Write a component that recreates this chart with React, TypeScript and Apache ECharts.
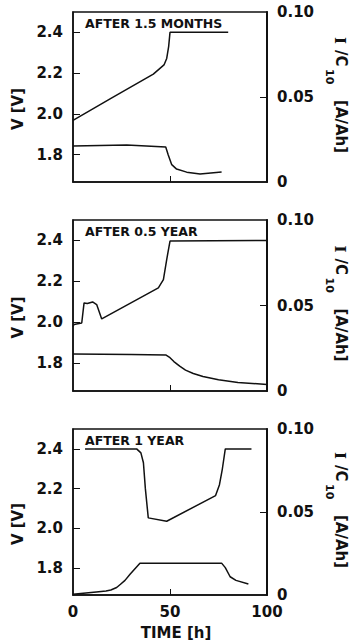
import React, { useEffect, useRef } from "react";
import * as echarts from "echarts";

// ---- data (time in h, voltage in V, current in A/Ah) ----
const panelTitles = ["AFTER 1.5 MONTHS", "AFTER 0.5 YEAR", "AFTER 1 YEAR"];
const vTicks = [1.8, 2.0, 2.2, 2.4];
const iTicks = [0, 0.05, 0.1];
const xTicks = [0, 50, 100];

// Panel 1: after 1.5 months
const p1VoltT = [0, 20, 41.4, 46.9, 48.3, 49.3, 50, 80];
const p1VoltV = [1.968, 2.078, 2.195, 2.24, 2.272, 2.33, 2.4, 2.4];
const p1CurrT = [0, 27.7, 47.8, 49.1, 50.9, 53.4, 58.6, 65.5, 76.6];
const p1CurrI = [0.0212, 0.0218, 0.0206, 0.0159, 0.0102, 0.0076, 0.0058, 0.0047, 0.0059];

// Panel 2: after 0.5 year
const p2VoltT = [0, 0.5, 4.5, 5.7, 7.4, 10.1, 12.2, 14.8, 44, 46.6, 48.3, 50, 100];
const p2VoltV = [1.98, 1.99, 1.997, 2.095, 2.092, 2.1, 2.087, 2.017, 2.169, 2.209, 2.307, 2.397, 2.4];
const p2CurrT = [0, 30, 48, 50, 52, 55, 58, 62, 67, 75, 85, 100];
const p2CurrI = [0.0216, 0.0214, 0.021, 0.0195, 0.0172, 0.0145, 0.0122, 0.0102, 0.0085, 0.0066, 0.005, 0.0038];

// Panel 3: after 1 year
const p3VoltT = [6.2, 32.8, 35, 36.3, 37.3, 38.8, 48.3, 73.5, 75.5, 77, 78.5, 92];
const p3VoltV = [2.4, 2.4, 2.38, 2.33, 2.2, 2.053, 2.036, 2.165, 2.22, 2.3, 2.4, 2.4];
const p3CurrT = [0, 12, 17, 19.5, 22.5, 24.5, 26.8, 29.4, 34.5, 76.6, 78.5, 81, 84, 90.4];
const p3CurrI = [0.0004, 0.0018, 0.0024, 0.003, 0.0045, 0.0065, 0.0088, 0.0125, 0.0192, 0.0192, 0.0165, 0.011, 0.0088, 0.0066];

const zip = (a: number[], b: number[]) => a.map((t, i) => [t, b[i]]);

const panels = [
  { volt: zip(p1VoltT, p1VoltV), curr: zip(p1CurrT, p1CurrI) },
  { volt: zip(p2VoltT, p2VoltV), curr: zip(p2CurrT, p2CurrI) },
  { volt: zip(p3VoltT, p3VoltV), curr: zip(p3CurrT, p3CurrI) },
];

// ---- layout ----
const GRID_LEFT = 73;
const GRID_WIDTH = 194;
const tops = [12, 220, 429];
const heights = [170, 171, 166];
const INK = "#111";
const FONT = "DejaVu Sans";

export default function App() {
  const ref = useRef<HTMLDivElement>(null);
  useEffect(() => {
    if (!ref.current) return;
    const chart = echarts.init(ref.current, null, { renderer: "svg" });

    const labelStyle = {
      fontFamily: FONT,
      fontWeight: "bold" as const,
      fontSize: 15,
      color: INK,
    };

    const grid = tops.map((t, i) => ({
      left: GRID_LEFT,
      width: GRID_WIDTH,
      top: t,
      height: heights[i],
      show: true,
      borderColor: INK,
      borderWidth: 1.5,
      backgroundColor: "transparent",
    }));

    const xAxis = tops.map((_, i) => ({
      gridIndex: i,
      type: "value",
      min: 0,
      max: 100,
      interval: 50,
      axisLine: { show: true, lineStyle: { color: INK, width: 1.5 } },
      axisTick: { show: true, inside: true, length: 6, customValues: [50], lineStyle: { color: INK, width: 1 } },
      axisLabel: {
        show: i === 2,
        customValues: xTicks,
        margin: 9,
        ...labelStyle,
      },
      splitLine: { show: false },
    }));

    const yAxis: any[] = [];
    tops.forEach((_, i) => {
      yAxis.push({
        gridIndex: i,
        type: "value",
        position: "left",
        min: 1.665,
        max: 2.5,
        axisLine: { show: true, lineStyle: { color: INK, width: 1.5 } },
        axisTick: { show: true, inside: true, length: 7, customValues: vTicks, lineStyle: { color: INK, width: 1 } },
        axisLabel: {
          customValues: vTicks,
          formatter: (v: number) => v.toFixed(1),
          margin: 10,
          ...labelStyle,
        },
        splitLine: { show: false },
      });
      yAxis.push({
        gridIndex: i,
        type: "value",
        position: "right",
        min: 0,
        max: 0.1,
        axisLine: { show: true, lineStyle: { color: INK, width: 2 } },
        axisTick: { show: true, inside: true, length: 7, customValues: [0.05], lineStyle: { color: INK, width: 1 } },
        axisLabel: {
          customValues: iTicks,
          formatter: (v: number) => (v === 0 ? "0" : v.toFixed(2)),
          margin: 10,
          ...labelStyle,
        },
        splitLine: { show: false },
      });
    });

    const series: any[] = [];
    panels.forEach((p, i) => {
      const common = {
        type: "line",
        xAxisIndex: i,
        showSymbol: false,
        symbol: "none",
        lineStyle: { color: INK, width: 1.5 },
        z: 3,
      };
      series.push({ ...common, name: `V${i}`, yAxisIndex: 2 * i, data: p.volt });
      series.push({ ...common, name: `I${i}`, yAxisIndex: 2 * i + 1, data: p.curr });
    });

    const graphic: any[] = [];
    tops.forEach((t, i) => {
      const mid = t + heights[i] / 2;
      graphic.push({
        type: "text",
        left: GRID_LEFT + 12,
        top: t + 5,
        style: { text: panelTitles[i], fontFamily: FONT, fontWeight: "bold", fontSize: 12.5, fill: INK },
        z: 10,
      });
      graphic.push({
        type: "text",
        x: 18,
        y: mid + 12,
        rotation: Math.PI / 2,
        style: { text: "V [V]", fontFamily: FONT, fontWeight: "bold", fontSize: 15, fill: INK, align: "center", verticalAlign: "middle" },
      });
      const y0 = mid - 60;
      graphic.push({
        type: "text",
        x: 340,
        y: y0,
        rotation: -Math.PI / 2,
        style: { text: "I", fontFamily: "DejaVu Serif", fontWeight: "bold", fontSize: 15, fill: INK, align: "left", verticalAlign: "middle" },
      });
      graphic.push({
        type: "text",
        x: 341,
        y: y0 + 13,
        rotation: -Math.PI / 2,
        style: { text: "/C", fontFamily: FONT, fontWeight: "bold", fontSize: 15, fill: INK, align: "left", verticalAlign: "middle" },
      });
      graphic.push({
        type: "text",
        x: 329,
        y: y0 + 32,
        rotation: -Math.PI / 2,
        style: { text: "10", fontFamily: FONT, fontWeight: "bold", fontSize: 11, fill: INK, align: "left", verticalAlign: "middle" },
      });
      graphic.push({
        type: "text",
        x: 341,
        y: y0 + 63,
        rotation: -Math.PI / 2,
        style: { text: "[A/Ah]", fontFamily: FONT, fontWeight: "bold", fontSize: 15, fill: INK, align: "left", verticalAlign: "middle" },
      });
    });
    graphic.push({
      type: "text",
      x: 176,
      y: 633,
      style: { text: "TIME [h]", fontFamily: FONT, fontWeight: "bold", fontSize: 15, fill: INK, align: "center", verticalAlign: "middle" },
    });

    chart.setOption({
      animation: false,
      backgroundColor: "#fff",
      grid,
      xAxis,
      yAxis,
      series,
      graphic,
    });
    return () => chart.dispose();
  }, []);

  return (
    <div
      ref={ref}
      style={{ position: "absolute", left: 0, top: 0, width: 354, height: 644, background: "#fff" }}
    />
  );
}
